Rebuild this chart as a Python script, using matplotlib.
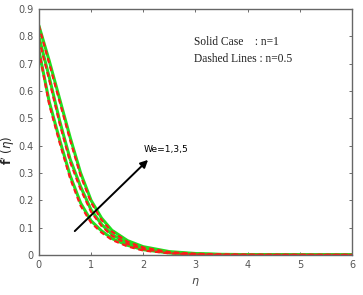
import numpy as np
import matplotlib.pyplot as plt

# eta grid and f'(eta) profiles
eta = [0, 0.2, 0.4, 0.6, 0.8, 1.0, 1.2, 1.4, 1.7, 2.0, 2.5, 3.0, 3.5, 4.0, 5.0, 6.0]

# solid lines, n = 1
solid_we1 = [0.84, 0.71, 0.57, 0.43, 0.30, 0.200, 0.135, 0.090, 0.052, 0.030, 0.012, 0.005, 0.002, 0.001, 0.0, 0.0]
solid_we3 = [0.80, 0.65, 0.49, 0.35, 0.25, 0.165, 0.112, 0.075, 0.043, 0.024, 0.009, 0.003, 0.001, 0.0005, 0.0, 0.0]
solid_we5 = [0.75, 0.56, 0.42, 0.29, 0.19, 0.125, 0.088, 0.060, 0.035, 0.019, 0.007, 0.002, 0.001, 0.0, 0.0, 0.0]

# dashed lines, n = 0.5
dash_we1 = [0.84, 0.70, 0.56, 0.42, 0.29, 0.192, 0.128, 0.085, 0.048, 0.027, 0.010, 0.004, 0.0015, 0.0005, 0.0, 0.0]
dash_we3 = [0.79, 0.64, 0.48, 0.34, 0.24, 0.158, 0.106, 0.070, 0.040, 0.021, 0.008, 0.0025, 0.001, 0.0, 0.0, 0.0]
dash_we5 = [0.75, 0.55, 0.41, 0.28, 0.18, 0.118, 0.082, 0.055, 0.031, 0.016, 0.006, 0.0015, 0.0005, 0.0, 0.0, 0.0]

fig = plt.figure(figsize=(3.63, 2.95), dpi=100)
ax = fig.add_axes([0.107, 0.136, 0.863, 0.833])

green = '#1fe01f'
red = '#ff1a1a'
for ys in (solid_we1, solid_we3, solid_we5):
    ax.plot(eta, ys, color=green, lw=2.2, solid_capstyle='round')
for ys in (dash_we1, dash_we3, dash_we5):
    ax.plot(eta, ys, color=red, lw=1.6, linestyle=(0, (2.2, 1.6)))

# arrow showing increasing We
ax.annotate('', xy=(2.13, 0.355), xytext=(0.65, 0.08),
            arrowprops=dict(arrowstyle='-|>', color='black', lw=1.4, mutation_scale=11))
ax.text(2.0, 0.37, 'We=1,3,5', fontsize=6.6, color='black', ha='left', va='bottom')

ax.text(2.97, 0.77, 'Solid Case    : n=1', fontsize=8.3, family='Liberation Serif', color='#202020')
ax.text(2.97, 0.705, 'Dashed Lines : n=0.5', fontsize=8.3, family='Liberation Serif', color='#202020')

ax.set_xlim(0, 6)
ax.set_ylim(0, 0.9)
ax.set_xticks(range(0, 7))
ax.set_yticks(np.arange(0, 0.91, 0.1))
ax.set_yticklabels(['0', '0.1', '0.2', '0.3', '0.4', '0.5', '0.6', '0.7', '0.8', '0.9'])
ax.tick_params(direction='in', length=2.5, width=0.6, labelsize=7, colors='#555555',
               top=True, right=True, pad=4)
for s in ax.spines.values():
    s.set_color('#666666')
    s.set_linewidth(1.0)

ax.set_xlabel(r'$\eta$', fontsize=8, color='#444444', labelpad=4)
fig.text(0.022, 0.49, r"$\mathbf{f^{\prime}}$ $(\eta)$", fontsize=8.5, color='#222222',
         rotation=90, ha='center', va='center')

fig.savefig('out.png', dpi=100)
